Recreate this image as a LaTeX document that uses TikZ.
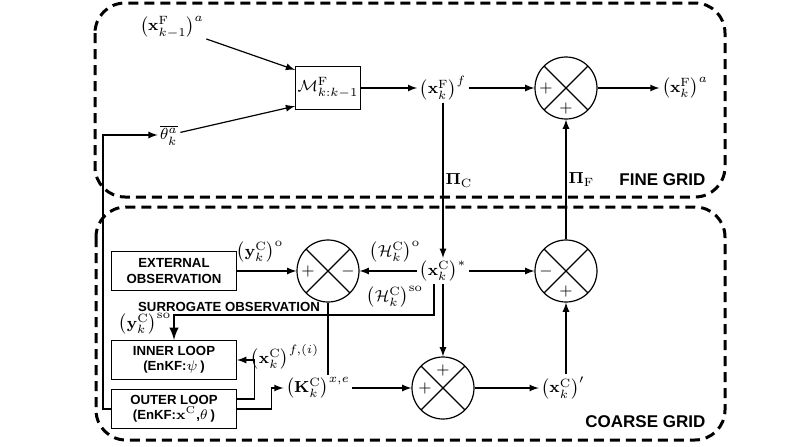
\documentclass[tikz,border=0pt]{standalone}
\usepackage{amsmath, amssymb}
\usepackage[no-math]{fontspec}
\newfontfamily\boxfont{Liberation Sans}
\usetikzlibrary{arrows, calc}

\begin{document}
\begin{tikzpicture}[x=0.5pt, y=-0.5pt, >=latex, line width=0.6pt, inner sep=1pt,
			font=\fontsize{8.5}{10}\selectfont,
			gridbox/.style={line width=1.5pt, dash pattern=on 5pt off 3pt, rounded corners=15pt},
			blockbox/.style={draw, minimum width=62.5pt, minimum height=19.5pt, align=center, inner sep=1pt,
				font=\boxfont\bfseries\fontsize{6.6}{7.6}\selectfont},
			sumnode/.style={draw, circle, minimum size=31pt, inner sep=0pt,
				path picture={\draw (path picture bounding box.north west) -- (path picture bounding box.south east)
					(path picture bounding box.north east) -- (path picture bounding box.south west);}},
			gridlabel/.style={anchor=east, font=\boxfont\bfseries\fontsize{8.5}{10}\selectfont}]
			\useasboundingbox (0,0) rectangle (789,446);
			%Gitter zeichnen
			\draw[gridbox] (95,3) rectangle (725,197);
			\draw[gridbox] (96,207) rectangle (725,440);
			\node[gridlabel] (fine) at (708,180) {FINE GRID};
			\node[gridlabel] (coarse) at (708,422) {COARSE GRID};
			% feines Gitter
			\node (xFa1) at (172,27) {$\bigl(\mathbf{x}^{\mathrm{F}}_{k-1}\bigr)^{a}$};
			\node[draw, minimum width=31pt, minimum height=21.5pt] (model) at (328,88) {$\mathcal{M}^{\mathrm{F}}_{k:k-1}$};
			\node (theta) at (169,135) {$\overline{\theta^{a}_{k}}$};
			\node (xFf) at (443,88) {$\bigl(\mathbf{x}^{\mathrm{F}}_{k}\bigr)^{f}$};
			\node[sumnode] (sumF) at (566,88) {};
			\node (xFa) at (685,88) {$\bigl(\mathbf{x}^{\mathrm{F}}_{k}\bigr)^{a}$};
			\draw[->] (xFa1) -- ([yshift=-2pt]model.north west);
			\draw[->] (theta) -- ([yshift=2pt]model.south west);
			\draw[->] (model) -- (xFf);
			\draw[->] (xFf) -- (sumF);
			\draw[->] (sumF) -- (xFa);
			% grobes Gitter
			\node[blockbox] (extobs) at (174,271) {EXTERNAL\\OBSERVATION};
			\node[sumnode] (sumO) at (328,271) {};
			\node (xCs) at (443,271) {$\bigl(\mathbf{x}^{\mathrm{C}}_{k}\bigr)^{*}$};
			\node[sumnode] (sumC) at (566,271) {};
			\node[blockbox] (inner) at (174,360) {INNER LOOP\\(EnKF:$\psi\,$)};
			\node[blockbox] (outer) at (174,409) {OUTER LOOP\\(EnKF:$\mathbf{x}^{\mathrm{C}}$,$\theta\,$)};
			\node (KC) at (318,388) {$\bigl(\mathbf{K}^{\mathrm{C}}_{k}\bigr)^{x,e}$};
			\node[sumnode] (sumB) at (443,388) {};
			\node (xCp) at (563,388) {$\bigl(\mathbf{x}^{\mathrm{C}}_{k}\bigr)^{\prime}$};
			% Beschriftung
			\node (yCo) at (260,252) {$\bigl(\mathbf{y}^{\mathrm{C}}_{k}\bigr)^{\mathrm{o}}$};
			\node (HCo) at (395,252) {$\bigl(\mathcal{H}^{\mathrm{C}}_{k}\bigr)^{\mathrm{o}}$};
			\node (HCso) at (395,297) {$\bigl(\mathcal{H}^{\mathrm{C}}_{k}\bigr)^{\mathrm{so}}$};
			\node[font=\boxfont\bfseries\fontsize{6.6}{7.6}\selectfont] (surr) at (229,307) {SURROGATE OBSERVATION};
			\node (yCso) at (145,324) {$\bigl(\mathbf{y}^{\mathrm{C}}_{k}\bigr)^{\mathrm{so}}$};
			\node (xCfi) at (285,357) {$\bigl(\mathbf{x}^{\mathrm{C}}_{k}\bigr)^{f,(i)}$};
			% Vorzeichen
			\foreach \c/\dx/\dy/\s [count=\i] in {sumF/-10/0/+, sumF/0/-10/+, sumO/-10/0/+, sumO/10/0/-,
				sumC/-10/0/-, sumC/0/-10/+, sumB/0/9/+, sumB/-9/0/+}
				\node[inner sep=0pt] (sign\i) at ([shift={(\dx pt,\dy pt)}]\c.center) {$\s$};
			% Verbindungen
			\draw[->] (xFf) -- (xCs) node[midway, right] (piC) {$\mathbf{\Pi}_{\mathrm{C}}$};
			\draw[->] (sumC) -- (sumF) node[midway, right] (piF) {$\mathbf{\Pi}_{\mathrm{F}}$};
			\draw[->] (extobs) -- (sumO);
			\draw[->] (xCs) -- (sumO);
			\draw[->] (xCs) -- (sumC);
			\draw[->] (xCs) -- (sumB);
			\draw (sumO.south) -- (sumO.south |- KC.north);
			\draw[->] (KC) -- (sumB);
			\draw[->] (sumB) -- (xCp);
			\draw[->] (sumC |- xCp.north) -- (sumC.south);
			\coordinate (sbend) at (434,315);
			\draw[line width=1.1pt, ->] (xCs.south -| sbend) -- (sbend) -| (inner.north);
			\draw[->] ([yshift=5pt]outer.east) -- ++(17,0) |- (inner.east);
			\draw[->] (outer.east) -- ++(34,0) |- (KC.west);
			\draw[->] (outer.west) -- ++(-8,0) |- (theta.west);
		\end{tikzpicture}
\end{document}
